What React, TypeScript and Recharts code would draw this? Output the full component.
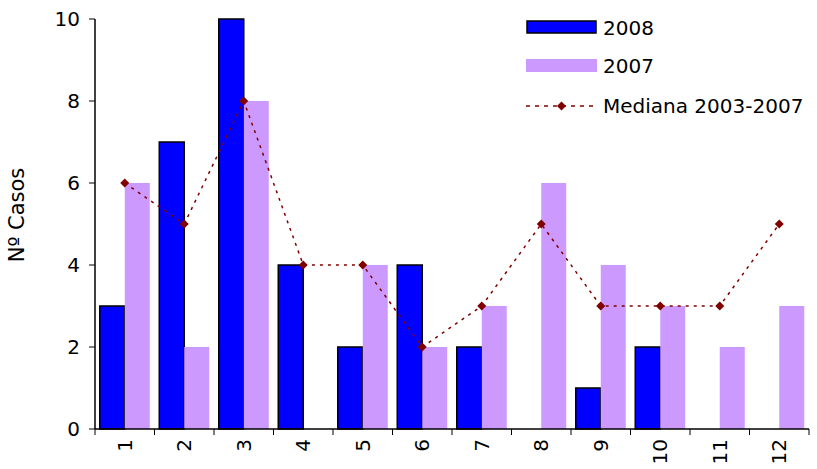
import { ComposedChart, Bar, Line, XAxis, YAxis, Label } from 'recharts';

const months = ['1', '2', '3', '4', '5', '6', '7', '8', '9', '10', '11', '12'];
const cases2008 = [3, 7, 10, 4, 2, 4, 2, 0, 1, 2, 0, 0];
const cases2007 = [6, 2, 8, 0, 4, 2, 3, 6, 4, 3, 2, 3];
const median0307 = [6, 5, 8, 4, 4, 2, 3, 5, 3, 3, 3, 5];
const yTicks = [0, 2, 4, 6, 8, 10];

const data = months.map((name, i) => ({
  name,
  m: i + 1,
  y2008: cases2008[i],
  y2007: cases2007[i],
  median: median0307[i],
}));

// ticks at category edges (x.5) and labels at category centres (integers)
const xTicks: number[] = [];
for (let i = 0; i <= months.length * 2; i++) xTicks.push(0.5 + i / 2);

const FONT = '"DejaVu Sans", Verdana, sans-serif';
const RED = '#800000';

const Diamond = (props: any) => {
  const { cx, cy } = props;
  if (cx == null || cy == null) return null;
  const r = 4.5;
  return <polygon points={`${cx},${cy - r} ${cx + r},${cy} ${cx},${cy + r} ${cx - r},${cy}`} fill={RED} />;
};

const MonthTick = (props: any) => {
  const { x, y, payload } = props;
  const v = payload.value;
  if (Number.isInteger(v)) {
    return (
      <text
        x={x}
        y={y + 10}
        transform={`rotate(-90, ${x}, ${y + 10})`}
        textAnchor="end"
        dominantBaseline="central"
        fontSize={20}
        fontFamily={FONT}
        fill="#000"
      >
        {months[v - 1]}
      </text>
    );
  }
  return <line x1={x} y1={y} x2={x} y2={y + 6} stroke="#000" strokeWidth={1} />;
};

// legend drawn outside the chart so it takes no room from the plot
const LegendBox = () => (
  <svg width={290} height={120} style={{ position: 'absolute', left: 526, top: 9 }}>
    <rect x={1} y={12} width={69} height={12} fill="#0000FF" stroke="#000" strokeWidth={1.5} />
    <text x={77} y={19} dominantBaseline="central" fontSize={20} fontFamily={FONT}>2008</text>
    <rect x={0} y={50} width={71} height={13} fill="#CC99FF" />
    <text x={77} y={57} dominantBaseline="central" fontSize={20} fontFamily={FONT}>2007</text>
    <line x1={0} y1={97} x2={71} y2={97} stroke={RED} strokeWidth={1.5} strokeDasharray="4 5" />
    <polygon points="35.5,92.5 40,97 35.5,101.5 31,97" fill={RED} />
    <text x={77} y={97} dominantBaseline="central" fontSize={20} fontFamily={FONT}>Mediana 2003-2007</text>
  </svg>
);

export default function App() {
  return (
    <div style={{ position: 'absolute', left: 0, top: 0, width: 817, height: 469, background: '#fff' }}>
      <ComposedChart
        width={817}
        height={469}
        data={data}
        margin={{ top: 19, right: 8, left: 0, bottom: 0 }}
        barCategoryGap="8%"
        barGap={0}
      >
        <XAxis xAxisId="cat" dataKey="name" hide height={0} />
        <XAxis
          xAxisId="num"
          dataKey="m"
          type="number"
          domain={[0.5, 12.5]}
          ticks={xTicks}
          interval={0}
          tickSize={0}
          tickMargin={0}
          tickLine={false}
          tick={<MonthTick />}
          axisLine={{ stroke: '#000', strokeWidth: 1.5 }}
          height={40}
        />
        <YAxis
          domain={[0, 10]}
          ticks={yTicks}
          interval={0}
          width={95}
          tickSize={6}
          tickMargin={9}
          tickLine={{ stroke: '#000' }}
          axisLine={{ stroke: '#000', strokeWidth: 1.5 }}
          tick={{ fontSize: 20, fontFamily: FONT, fill: '#000' }}
        >
          <Label
            content={(p: any) => {
              const vb = p.viewBox;
              const cx = vb.x + 17;
              const cy = vb.y + vb.height / 2 - 9;
              return (
                <text
                  x={cx}
                  y={cy}
                  transform={`rotate(-90, ${cx}, ${cy})`}
                  textAnchor="middle"
                  dominantBaseline="central"
                  fontSize={21}
                  fontFamily={FONT}
                  fill="#000"
                >
                  Nº Casos
                </text>
              );
            }}
          />
        </YAxis>
        <Bar xAxisId="cat" dataKey="y2008" name="2008" fill="#0000FF" stroke="#000" strokeWidth={1.5} isAnimationActive={false} />
        <Bar xAxisId="cat" dataKey="y2007" name="2007" fill="#CC99FF" isAnimationActive={false} />
        <Line
          xAxisId="cat"
          dataKey="median"
          name="Mediana 2003-2007"
          type="linear"
          stroke={RED}
          strokeWidth={1.5}
          strokeDasharray="3 5"
          dot={<Diamond />}
          activeDot={false}
          isAnimationActive={false}
        />
      </ComposedChart>
      <LegendBox />
    </div>
  );
}
